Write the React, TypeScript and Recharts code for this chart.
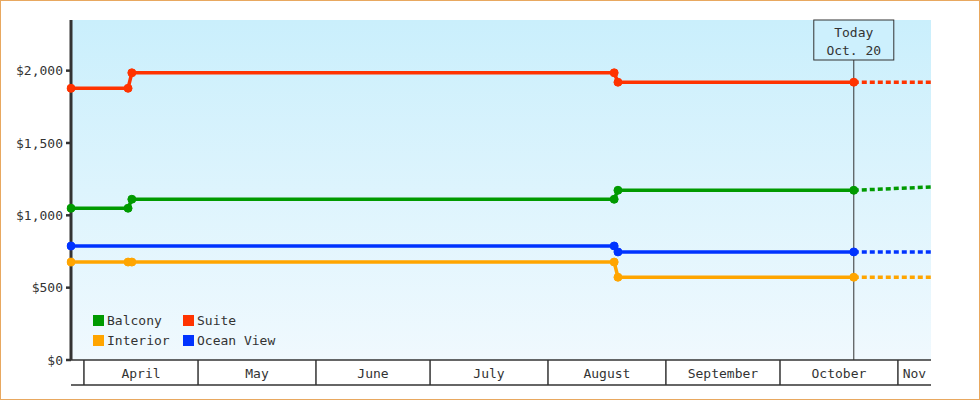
import { CartesianGrid, Legend, Line, LineChart, ReferenceLine, XAxis, YAxis } from "recharts";

const FONT = "'DejaVu Sans Mono', monospace";
const INK = "#333";

// x values are days counted from April 1
const MONTH_NAMES = ["April", "May", "June", "July", "August", "September", "October", "Nov"];
const MONTH_START = [0, 30, 61, 91, 122, 153, 183, 214];
const X_DOMAIN: [number, number] = [-3.4, 222.7];
const TODAY = 202.4;
const PRICE_TICKS = [0, 500, 1000, 1500, 2000];

const balconyDays = [-3.4, 11.6, 12.6, 139.4, 140.4, TODAY];
const balconyPrice = [1049, 1049, 1111, 1111, 1173, 1173];
const suiteDays = [-3.4, 11.6, 12.6, 139.4, 140.4, TODAY];
const suitePrice = [1878, 1878, 1985, 1985, 1920, 1920];
const interiorDays = [-3.4, 11.6, 12.6, 139.4, 140.4, TODAY];
const interiorPrice = [677, 677, 677, 677, 572, 572];
const oceanDays = [-3.4, 139.4, 140.4, TODAY];
const oceanPrice = [788, 788, 747, 747];

// projection after today (dotted)
const forecastDays = [TODAY, 222.7];
const balconyForecast = [1173, 1196];
const suiteForecast = [1920, 1920];
const interiorForecast = [572, 572];
const oceanForecast = [747, 747];

const LEGEND_ORDER = ["Balcony", "Suite", "Interior", "Ocean View"];

const toPoints = (days: number[], vals: number[]) => days.map((d, i) => ({ d, v: vals[i] }));

const SERIES = [
  { name: "Balcony", color: "#009a00", data: toPoints(balconyDays, balconyPrice), future: toPoints(forecastDays, balconyForecast) },
  { name: "Suite", color: "#ff3300", data: toPoints(suiteDays, suitePrice), future: toPoints(forecastDays, suiteForecast) },
  { name: "Interior", color: "#ffa500", data: toPoints(interiorDays, interiorPrice), future: toPoints(forecastDays, interiorForecast) },
  { name: "Ocean View", color: "#0033ff", data: toPoints(oceanDays, oceanPrice), future: toPoints(forecastDays, oceanForecast) },
];

const LABEL_POS = MONTH_START.map((s, i) => (s + (MONTH_START[i + 1] ?? X_DOMAIN[1])) / 2);
const X_TICKS = [...MONTH_START, ...LABEL_POS];

function MonthTick({ x, y, payload }: any) {
  const v = payload.value;
  if (MONTH_START.includes(v)) {
    return <line x1={x} y1={y} x2={x} y2={y + 25} stroke={INK} strokeWidth={1.5} />;
  }
  const i = LABEL_POS.indexOf(v);
  return (
    <text x={x} y={y + 13} textAnchor="middle" dominantBaseline="central" fill={INK} fontSize={13} fontFamily={FONT}>
      {MONTH_NAMES[i]}
    </text>
  );
}

function TodayLabel({ viewBox }: any) {
  const { x, y } = viewBox;
  return (
    <g>
      <rect x={x - 40} y={y} width={80} height={40} fill="#cdf0fd" stroke={INK} strokeWidth={1} />
      <text x={x} y={y + 12.5} textAnchor="middle" dominantBaseline="central" fill={INK} fontSize={13} fontFamily={FONT}>Today</text>
      <text x={x} y={y + 30} textAnchor="middle" dominantBaseline="central" fill={INK} fontSize={13} fontFamily={FONT}>Oct. 20</text>
    </g>
  );
}

function LegendGrid({ payload }: any) {
  const items = LEGEND_ORDER.map((n) => (payload || []).find((p: any) => p.value === n)).filter(Boolean);
  return (
    <div style={{ display: "grid", gridTemplateColumns: "90px 110px", fontFamily: FONT, fontSize: 13, color: INK }}>
      {items.map((p: any) => (
        <div key={p.value} style={{ display: "flex", alignItems: "center", height: 20, whiteSpace: "nowrap" }}>
          <span style={{ width: 11, height: 11, background: p.color, marginRight: 3, display: "inline-block" }} />
          {p.value}
        </div>
      ))}
    </div>
  );
}

export default function App() {
  return (
    <div style={{ position: "absolute", left: 0, top: 0, width: 980, height: 400, background: "#fff", outline: "1px solid #e8a860", outlineOffset: -1 }}>
      <LineChart width={980} height={400} margin={{ top: 20, right: 49, bottom: 14, left: 0 }}>
        <defs>
          <linearGradient id="bg" x1="0" y1="0" x2="0" y2="1">
            <stop offset="0%" stopColor="#caeffc" />
            <stop offset="100%" stopColor="#f0f9fe" />
          </linearGradient>
        </defs>
        <CartesianGrid horizontal={false} vertical={false} fill="url(#bg)" />
        <XAxis
          dataKey="d"
          type="number"
          domain={X_DOMAIN}
          ticks={X_TICKS}
          interval={0}
          tick={<MonthTick />}
          tickLine={false}
          tickSize={0}
          tickMargin={0}
          height={25}
          axisLine={{ stroke: INK, strokeWidth: 1.5 }}
          allowDataOverflow
        />
        <XAxis
          xAxisId="base"
          dataKey="d"
          type="number"
          domain={X_DOMAIN}
          tick={false}
          tickLine={false}
          height={1}
          axisLine={{ stroke: INK, strokeWidth: 1.5 }}
          allowDataOverflow
        />
        <YAxis
          domain={[0, 2350]}
          ticks={PRICE_TICKS}
          width={71}
          tickSize={5}
          tickMargin={3}
          tickFormatter={(v: number) => `$${v.toLocaleString("en-US")}`}
          tick={{ fill: INK, fontSize: 13, fontFamily: FONT }}
          tickLine={{ stroke: INK, strokeWidth: 2.5 }}
          axisLine={{ stroke: INK, strokeWidth: 3 }}
          allowDataOverflow
        />
        <ReferenceLine x={TODAY} stroke={INK} strokeWidth={1} label={<TodayLabel />} />
        {SERIES.map((s) => (
          <Line
            key={s.name}
            name={s.name}
            data={s.data}
            dataKey="v"
            type="linear"
            stroke={s.color}
            strokeWidth={3.5}
            dot={{ r: 4, fill: s.color, stroke: s.color, strokeWidth: 1, clipDot: false }}
            activeDot={false}
            isAnimationActive={false}
          />
        ))}
        {SERIES.map((s) => (
          <Line
            key={s.name + "-future"}
            data={s.future}
            dataKey="v"
            type="linear"
            stroke={s.color}
            strokeWidth={3.5}
            strokeDasharray="5 3"
            dot={false}
            activeDot={false}
            legendType="none"
            isAnimationActive={false}
          />
        ))}
        <Legend
          layout="horizontal"
          verticalAlign="middle"
          content={<LegendGrid />}
          wrapperStyle={{ position: "absolute", left: 93, top: 310, width: 220 }}
        />
      </LineChart>
    </div>
  );
}
